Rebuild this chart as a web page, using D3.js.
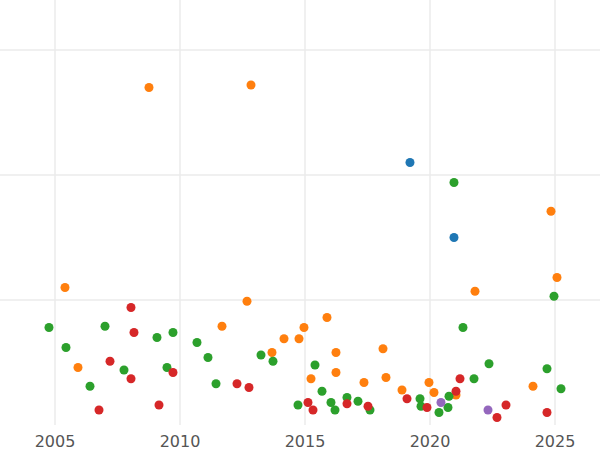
<!DOCTYPE html>
<html><head><meta charset="utf-8">
<script src="https://cdn.jsdelivr.net/npm/d3@7"></script>
<style>body{margin:0;background:#fff}svg{display:block}</style>
</head><body><svg width="600" height="450"></svg>
<script>
// [year, value]
const orange = [[2008.76,2.70],[2012.84,2.72],[2005.4,1.10],[2005.92,0.46],[2012.68,0.99],[2011.68,0.79],
  [2014.16,0.69],[2014.76,0.69],[2014.96,0.78],[2015.88,0.86],[2016.24,0.58],[2015.24,0.37],[2016.24,0.42],
  [2018.12,0.61],[2017.36,0.34],[2018.24,0.38],[2018.88,0.28],[2019.96,0.34],[2020.16,0.26],[2021.04,0.24],
  [2021.8,1.07],[2024.84,1.71],[2025.08,1.18],[2024.12,0.31],[2013.68,0.58]];
const blue = [[2019.2,2.10],[2020.96,1.50]];
const green = [[2004.76,0.78],[2005.44,0.62],[2006.4,0.31],[2007.0,0.79],[2007.76,0.44],[2009.08,0.70],
  [2009.48,0.46],[2009.72,0.74],[2010.68,0.66],[2011.12,0.54],[2011.44,0.33],[2013.24,0.56],[2013.72,0.51],
  [2014.72,0.16],[2015.4,0.48],[2015.68,0.27],[2016.04,0.18],[2016.2,0.12],[2016.68,0.22],[2017.12,0.19],
  [2017.6,0.12],[2019.6,0.21],[2019.64,0.15],[2020.36,0.10],[2020.72,0.14],[2020.76,0.23],[2021.32,0.78],
  [2021.76,0.37],[2022.36,0.49],[2020.96,1.94],[2024.96,1.03],[2024.68,0.45],[2025.24,0.29]];
const red = [[2006.76,0.12],[2007.2,0.51],[2008.04,0.94],[2008.16,0.74],[2008.04,0.37],[2009.16,0.16],
  [2009.72,0.42],[2012.28,0.33],[2012.76,0.30],[2015.12,0.18],[2015.32,0.12],[2016.68,0.17],[2017.52,0.15],
  [2019.08,0.21],[2019.88,0.14],[2021.04,0.27],[2021.2,0.37],[2022.68,0.06],[2023.04,0.16],[2024.68,0.10]];
const purple = [[2020.44,0.18],[2022.32,0.12]];
const xTicks = [2005, 2010, 2015, 2020, 2025];
const yGrid = [1, 2, 3];

const series = [
  {data: orange, color: "#ff7f0e"}, {data: blue, color: "#1f77b4"},
  {data: green, color: "#2ca02c"}, {data: red, color: "#d62728"}, {data: purple, color: "#9467bd"}
];

const svg = d3.select("svg");
const x = d3.scaleLinear().domain([2005, 2010]).range([55, 180]);
const y = d3.scaleLinear().domain([0, 1]).range([425, 300]);

svg.append("g").selectAll("line").data(xTicks).join("line")
  .attr("x1", d => x(d)).attr("x2", d => x(d)).attr("y1", 0).attr("y2", 425)
  .attr("stroke", "#ebebeb").attr("stroke-width", 1.5);
svg.append("g").selectAll("line").data(yGrid).join("line")
  .attr("x1", 0).attr("x2", 600).attr("y1", d => y(d)).attr("y2", d => y(d))
  .attr("stroke", "#ebebeb").attr("stroke-width", 1.5);

svg.append("g").selectAll("text").data(xTicks).join("text")
  .attr("x", d => x(d)).attr("y", 447).attr("text-anchor", "middle")
  .attr("font-family", "DejaVu Sans").attr("font-size", 16).attr("fill", "#555")
  .text(d => d);

series.forEach(s => {
  svg.append("g").selectAll("circle").data(s.data).join("circle")
    .attr("cx", d => x(d[0])).attr("cy", d => y(d[1])).attr("r", 4.5)
    .attr("fill", s.color);
});
</script></body></html>
